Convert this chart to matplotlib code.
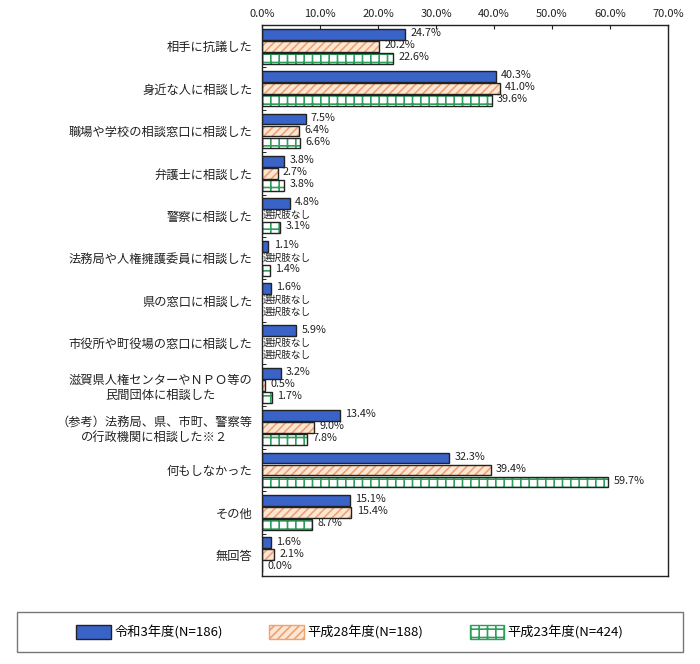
import matplotlib
matplotlib.use("Agg")
import matplotlib.pyplot as plt
from matplotlib.patches import Rectangle, Patch
import numpy as np

plt.rcParams['font.family'] = ['Noto Sans CJK JP', 'DejaVu Sans']
plt.rcParams['hatch.linewidth'] = 1.2

categories = [
    "相手に抗議した",
    "身近な人に相談した",
    "職場や学校の相談窓口に相談した",
    "弁護士に相談した",
    "警察に相談した",
    "法務局や人権擁護委員に相談した",
    "県の窓口に相談した",
    "市役所や町役場の窓口に相談した",
    "滋賀県人権センターやＮＰＯ等の\n民間団体に相談した",
    "（参考）法務局、県、市町、警察等\nの行政機関に相談した※２",
    "何もしなかった",
    "その他",
    "無回答",
]
series_names = ["令和3年度(N=186)", "平成28年度(N=188)", "平成23年度(N=424)"]
r3 = [24.7, 40.3, 7.5, 3.8, 4.8, 1.1, 1.6, 5.9, 3.2, 13.4, 32.3, 15.1, 1.6]
h28 = [20.2, 41.0, 6.4, 2.7, None, None, None, None, 0.5, 9.0, 39.4, 15.4, 2.1]
h23 = [22.6, 39.6, 6.6, 3.8, 3.1, 1.4, None, None, 1.7, 7.8, 59.7, 8.7, 0.0]
xticks = [0, 10, 20, 30, 40, 50, 60, 70]
na_label = "選択肢なし"

fig = plt.figure(figsize=(7.0, 6.64), dpi=100)
ax = fig.add_axes([262/700, 1-576/664, (668-262)/700, (576-25)/664])

styles = [
    dict(face="#3A63C8", hatch=None, hcolor=None),
    dict(face="#FDE6D2", hatch="////", hcolor="#EFA273"),
    dict(face="#FFFFFF", hatch="++", hcolor="#2E9E5B"),
]
offsets = [-0.283, 0.0, 0.283]
h = 0.255
y = np.arange(len(categories))

for vals, st, off in zip([r3, h28, h23], styles, offsets):
    for i, v in enumerate(vals):
        yy = y[i] + off
        if v is None:
            ax.text(0.15, yy, na_label, ha="left", va="center", fontsize=6.9, color="#222222")
            continue
        if st["hatch"]:
            ax.barh(yy, v, height=h, color=st["face"], hatch=st["hatch"],
                    edgecolor=st["hcolor"], linewidth=0)
            ax.barh(yy, v, height=h, fill=False, edgecolor="#222222", linewidth=1.0)
        else:
            ax.barh(yy, v, height=h, color=st["face"], edgecolor="#222222", linewidth=1.0)
        ax.text(v + 0.9, yy - 0.03, f"{v:.1f}%", ha="left", va="center", fontsize=7.8, color="#222222")

ax.set_xlim(0, 70)
ax.set_ylim(len(categories) - 0.5, -0.5)
ax.xaxis.tick_top()
ax.set_xticks(xticks)
ax.set_xticklabels([f"{t:.1f}%" for t in xticks], fontsize=8)
ax.tick_params(axis="x", direction="in", length=3, pad=4, colors="#222222")
ax.set_yticks(y)
ax.set_yticklabels(categories, fontsize=8.8, multialignment="center", color="#222222")
ax.tick_params(axis="y", length=0, pad=7)
ax.set_yticks(np.arange(len(categories) - 1) + 0.5, minor=True)
ax.tick_params(axis="y", which="minor", direction="in", length=3)
for s in ax.spines.values():
    s.set_linewidth(1.0)
    s.set_color("#222222")

# legend box
fig.patches.append(Rectangle((17/700, 1-652/664), (683-17)/700, 40/664,
                             transform=fig.transFigure, fill=False,
                             edgecolor="#777777", linewidth=1.0))
handles = [
    Patch(facecolor=styles[0]["face"], edgecolor="#222222"),
    Patch(facecolor=styles[1]["face"], hatch="////", edgecolor=styles[1]["hcolor"]),
    Patch(facecolor="white", hatch="++", edgecolor=styles[2]["hcolor"]),
]
fig.legend(handles, series_names, loc="center", bbox_to_anchor=(350/700, 1-632/664),
           ncol=3, frameon=False, fontsize=9.5, handlelength=2.6, handleheight=1.3,
           columnspacing=3.5, handletextpad=0.3)

fig.savefig("out.png", dpi=100)
